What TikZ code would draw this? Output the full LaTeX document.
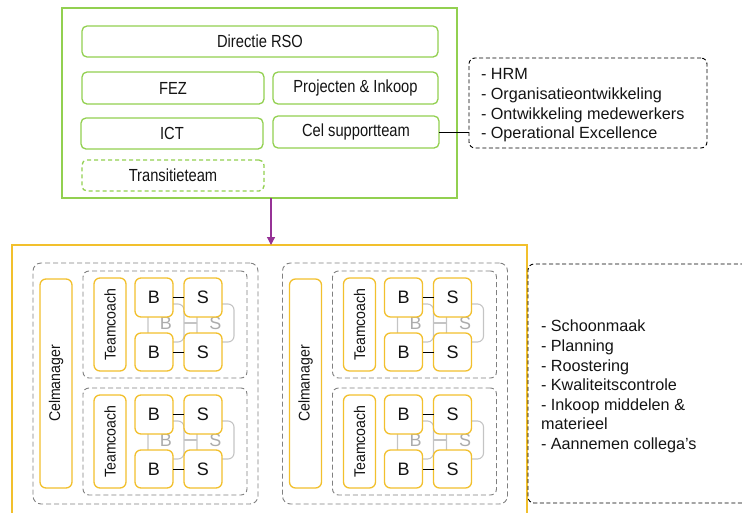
\documentclass[tikz,border=0pt]{standalone}
\usepackage{fontspec}
\setmainfont{Liberation Sans}
\newfontfamily\narrowfont[FakeStretch=0.84]{Liberation Sans}
\newfontfamily\slimfont[FakeStretch=0.91]{Liberation Sans}
\usetikzlibrary{arrows.meta,calc}

\definecolor{rsogreen}{RGB}{146,208,80}
\definecolor{celyellow}{RGB}{242,192,45}
\definecolor{linegray}{RGB}{128,128,128}
\definecolor{ghostgray}{RGB}{196,196,196}
\definecolor{ghosttext}{RGB}{172,172,172}
\definecolor{arrowpurple}{RGB}{150,50,150}
\definecolor{txt}{RGB}{20,20,20}

% box given by its two corners (pixel-like units, y downwards)
\newcommand{\rbox}[7]{%
  \node[#2, minimum width={(#5-#3)*1pt}, minimum height={(#6-#4)*1pt}]
    (#1) at ({(#3+#5)/2},{(#4+#6)/2}) {#7};}

\tikzset{
  boxbase/.style={inner sep=0pt, outer sep=0pt, text=txt},
  rsoframe/.style={boxbase, draw=rsogreen, line width=1.5pt},
  greenbox/.style={boxbase, draw=rsogreen, line width=1.3pt, rounded corners=5pt,
    fill=white, font=\narrowfont\fontsize{17.5}{20}\selectfont},
  greendash/.style={greenbox, dash pattern=on 4pt off 3pt},
  listbox/.style={boxbase, draw=black, line width=0.9pt, rounded corners=6pt,
    dash pattern=on 4pt off 2.6pt},
  listtext/.style={boxbase, align=left, font=\fontsize{16.2}{19.6}\selectfont},
  outerbox/.style={boxbase, draw=celyellow, line width=1.4pt},
  groupbox/.style={boxbase, draw=linegray, line width=0.9pt, rounded corners=8pt,
    dash pattern=on 5pt off 3pt},
  teambox/.style={groupbox, rounded corners=6pt},
  ybox/.style={boxbase, draw=celyellow, line width=1.3pt, rounded corners=6pt,
    fill=white, font=\fontsize{18}{20}\selectfont},
  vbox/.style={ybox, font=\slimfont\fontsize{15.5}{17}\selectfont},
  ghostbox/.style={boxbase, draw=ghostgray, line width=1.1pt, rounded corners=6pt,
    text=ghosttext, font=\fontsize{18}{20}\selectfont},
  ghostline/.style={draw=ghostgray, line width=1.1pt},
  pairline/.style={draw=black, line width=0.9pt},
  flowarrow/.style={draw=arrowpurple, line width=1.2pt,
    -{Triangle[length=8pt,width=8pt]}},
}

\begin{document}
\begin{tikzpicture}[x=1pt,y=-1pt]
\useasboundingbox (0,0) rectangle (742,512);
\clip (0,0) rectangle (742,512);

% ---- management block ----
\rbox{rso}{rsoframe}{62}{8}{457}{198}{}
\rbox{dir}{greenbox}{82}{26}{438}{57}{Directie RSO}
\rbox{fez}{greenbox}{82}{72}{264}{104}{FEZ}
\rbox{proj}{greenbox}{273}{72}{438}{104}{Projecten \& Inkoop}
\rbox{ict}{greenbox}{81}{118}{263}{149}{ICT}
\rbox{cel}{greenbox}{273}{116}{439}{148}{Cel supportteam}
\rbox{trans}{greendash}{82}{160}{264}{191}{Transitieteam}

% support tasks
\rbox{sup}{listbox}{469}{58}{707}{148}{}
\node[listtext, anchor=west] (suptext) at (481,105.5)
  {- HRM\\- Organisatieontwikkeling\\- Ontwikkeling medewerkers\\- Operational Excellence};
\draw[pairline] (cel.east) -- (cel.east -| sup.west);

% ---- cells block ----
\rbox{cells}{outerbox}{12}{245}{527}{560}{}
\draw[flowarrow] ($(rso.south)+(11.5,0)$) -- ($(cells.north)+(1.5,0)$);

\foreach \g/\dx in {a/0, b/249.5} {
  \begin{scope}[xshift=\dx]
    \rbox{\g cell}{groupbox}{33}{263}{258}{504}{}
    \rbox{\g mgr}{vbox}{40}{279}{72}{488}{\rotatebox{90}{Celmanager}}
    \foreach \t/\dy in {u/0, d/117} {
      \begin{scope}[yshift=-\dy]
        \rbox{\g\t team}{teambox}{83}{271}{247}{378}{}
        \rbox{\g\t coach}{vbox}{94}{278}{126}{371}{\rotatebox{90}{Teamcoach}}
        % rear pair
        \rbox{\g\t gb}{ghostbox}{148}{304}{184}{342}{B}
        \rbox{\g\t gs}{ghostbox}{197}{304}{234}{342}{S}
        \draw[ghostline] (\g\t gb) -- (\g\t gs);
        % front pairs
        \rbox{\g\t bone}{ybox}{135}{278}{173}{317}{B}
        \rbox{\g\t sone}{ybox}{184}{278}{222}{317}{S}
        \rbox{\g\t btwo}{ybox}{135}{333}{173}{371}{B}
        \rbox{\g\t stwo}{ybox}{184}{333}{222}{371}{S}
        \draw[pairline] (\g\t bone) -- (\g\t sone);
        \draw[pairline] (\g\t btwo) -- (\g\t stwo);
      \end{scope}
    }
  \end{scope}
}

% cell tasks
\rbox{tasks}{listbox}{528}{264}{790}{503}{}
\node[listtext, anchor=west] (taskstext) at (541,386.5)
  {- Schoonmaak\\- Planning\\- Roostering\\- Kwaliteitscontrole\\- Inkoop middelen \&\\materieel\\- Aannemen collega’s};
\end{tikzpicture}
\end{document}
